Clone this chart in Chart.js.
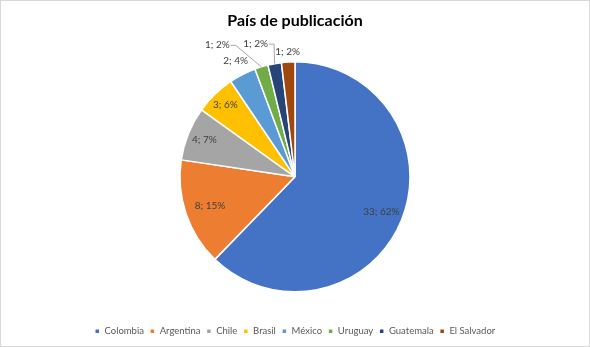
<!DOCTYPE html>
<html>
<head>
<meta charset="utf-8">
<script src="https://cdn.jsdelivr.net/npm/chart.js@4/dist/chart.umd.min.js"></script>
<style>
  html, body { margin: 0; padding: 0; background: #fff; }
  #wrap { width: 590px; height: 347px; box-sizing: border-box; border: 1px solid #d9d9d9; position: relative; }
  canvas { display: block; }
</style>
</head>
<body>
<div id="wrap"><canvas id="c" width="588" height="345"></canvas></div>
<script>
const categories = ["Colombia", "Argentina", "Chile", "Brasil", "México", "Uruguay", "Guatemala", "El Salvador"];
const counts = [33, 8, 4, 3, 2, 1, 1, 1];
const percentLabels = ["62%", "15%", "7%", "6%", "4%", "2%", "2%", "2%"];
const colors = ["#4472C4", "#ED7D31", "#A5A5A5", "#FFC000", "#5B9BD5", "#70AD47", "#264478", "#9E480E"];
// label placement: radius factor relative to outer radius, or pixel offset from slice edge for leader-lined labels
const labelRadius = [0.81, 0.78, 0.85, 0.87, 1.13, null, null, 1.09];
const leaderOffset = [null, null, null, null, null, [-44, -22], [-19, -20], null];

const FONT = 'Lato, "Liberation Sans", sans-serif';

const labelPlugin = {
  id: 'pieLabels',
  afterDatasetsDraw(chart) {
    const ctx = chart.ctx;
    const meta = chart.getDatasetMeta(0);
    ctx.save();
    ctx.font = '10px ' + FONT;
    ctx.fillStyle = '#404040';
    ctx.textAlign = 'center';
    ctx.textBaseline = 'middle';
    meta.data.forEach((arc, i) => {
      const p = arc.getProps(['x', 'y', 'startAngle', 'endAngle', 'outerRadius'], true);
      const mid = (p.startAngle + p.endAngle) / 2;
      const text = counts[i] + '; ' + percentLabels[i];
      if (leaderOffset[i]) {
        const ex = p.x + Math.cos(mid) * p.outerRadius;
        const ey = p.y + Math.sin(mid) * p.outerRadius;
        const lx = ex + leaderOffset[i][0];
        const ly = ey + leaderOffset[i][1];
        const w = ctx.measureText(text).width;
        ctx.fillText(text, lx, ly);
        ctx.strokeStyle = '#a6a6a6';
        ctx.lineWidth = 1;
        ctx.beginPath();
        ctx.moveTo(lx + w / 2 + 1, ly + 0.5);
        ctx.lineTo(lx + w / 2 + 6, ly + 0.5);
        ctx.lineTo(ex, ey);
        ctx.stroke();
      } else {
        const r = p.outerRadius * labelRadius[i];
        ctx.fillText(text, p.x + Math.cos(mid) * r, p.y + Math.sin(mid) * r);
      }
    });
    ctx.restore();
  }
};

new Chart(document.getElementById('c'), {
  type: 'pie',
  data: {
    labels: categories,
    datasets: [{
      data: counts,
      backgroundColor: colors,
      borderColor: '#ffffff',
      borderWidth: 1.5,
      radius: 115
    }]
  },
  options: {
    responsive: false,
    animation: false,
    layout: { padding: { top: 4, bottom: 0 } },
    plugins: {
      tooltip: { enabled: false },
      title: {
        display: true,
        text: 'País de publicación',
        color: '#000000',
        font: { family: FONT, size: 16, weight: 'bold', lineHeight: 1.2 },
        padding: { top: 6, bottom: 3 }
      },
      legend: {
        display: true,
        position: 'bottom',
        labels: {
          boxWidth: 5,
          boxHeight: 5,
          color: '#595959',
          padding: 6,
          font: { family: FONT, size: 9.5 }
        }
      }
    }
  },
  plugins: [labelPlugin]
});
</script>
</body>
</html>
